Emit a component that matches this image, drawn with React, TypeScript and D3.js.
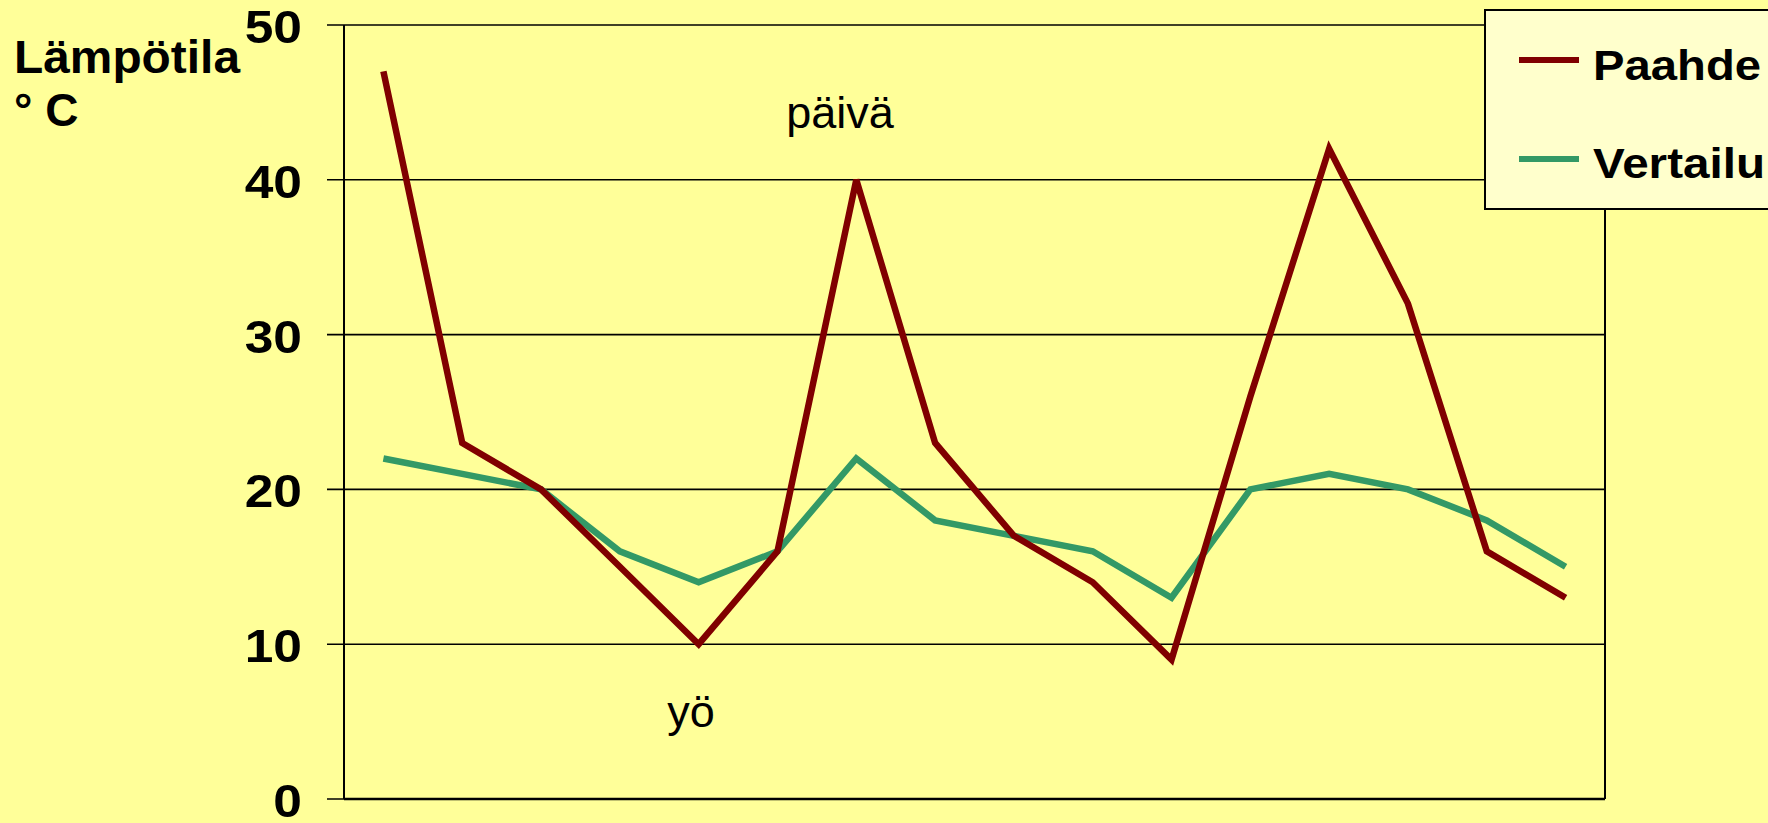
import React from "react";
import { scaleBand, scaleLinear, line } from "d3";

// Categories: time steps (no visible labels in the original)
const steps = ["1", "2", "3", "4", "5", "6", "7", "8", "9", "10", "11", "12", "13", "14", "15", "16"];
const paahde = [47, 23, 20, 15, 10, 16, 40, 23, 17, 14, 9, 26, 42, 32, 16, 13];
const vertailu = [22, 21, 20, 16, 14, 16, 22, 18, 17, 16, 13, 20, 21, 20, 18, 15];
const yTicks = [0, 10, 20, 30, 40, 50];
const seriesNames = ["Paahde", "Vertailu"];
const seriesColors = ["#800000", "#339966"];

const W = 1768;
const H = 823;
const margin = { left: 344, right: 1605, top: 25, bottom: 799 };

export default function App() {
  const x = scaleBand().domain(steps).range([margin.left, margin.right]);
  const y = scaleLinear().domain([0, 50]).range([margin.bottom, margin.top]);

  const path = line<number>()
    .x((_, i) => x(steps[i])! + x.bandwidth() / 2)
    .y((d) => y(d));

  const font = "Arial, 'Liberation Sans', sans-serif";
  const legendY = [80, 178];
  const legendW = [168, 172];

  return (
    <svg
      width={W}
      height={H}
      style={{ position: "absolute", left: 0, top: 0, fontFamily: font }}
    >
      <rect width={W} height={H} fill="#FFFF99" />

      {/* grid + ticks */}
      {yTicks.map((t) => (
        <g key={t}>
          <line x1={327} x2={margin.right} y1={y(t)} y2={y(t)} stroke="#000" strokeWidth={1.6} />
          <text
            transform={`translate(302,${y(t) + 18}) scale(1.12,1)`}
            textAnchor="end"
            fontSize={46}
            fontWeight="bold"
            fill="#000"
          >
            {t}
          </text>
        </g>
      ))}
      {/* plot frame */}
      <line x1={margin.left} x2={margin.left} y1={margin.top} y2={margin.bottom} stroke="#000" strokeWidth={2} />
      <line x1={margin.right} x2={margin.right} y1={margin.top} y2={margin.bottom} stroke="#000" strokeWidth={2} />
      <line x1={margin.left} x2={margin.right} y1={margin.bottom} y2={margin.bottom} stroke="#000" strokeWidth={2.5} />

      {/* series */}
      <path d={path(vertailu)!} fill="none" stroke={seriesColors[1]} strokeWidth={6.5} />
      <path d={path(paahde)!} fill="none" stroke={seriesColors[0]} strokeWidth={6.5} />

      {/* annotations */}
      <text x={840} y={128} textAnchor="middle" fontSize={45} fill="#000">päivä</text>
      <text x={691} y={727} textAnchor="middle" fontSize={45} fill="#000">yö</text>

      {/* axis title */}
      <text x={14} y={73} fontSize={46} fontWeight="bold" fill="#000" textLength={226} lengthAdjust="spacingAndGlyphs">
        Lämpötila
      </text>
      <text x={14} y={126} fontSize={46} fontWeight="bold" fill="#000">° C</text>

      {/* legend */}
      <rect x={1485} y={10} width={300} height={199} fill="#FFFFCC" stroke="#000" strokeWidth={2} />
      {seriesNames.map((n, i) => (
        <g key={n}>
          <line x1={1519} x2={1579} y1={60 + i * 99} y2={60 + i * 99} stroke={seriesColors[i]} strokeWidth={6} />
          <text
            x={1593}
            y={legendY[i]}
            fontSize={42}
            fontWeight="bold"
            fill="#000"
            textLength={legendW[i]}
            lengthAdjust="spacingAndGlyphs"
          >
            {n}
          </text>
        </g>
      ))}
    </svg>
  );
}
